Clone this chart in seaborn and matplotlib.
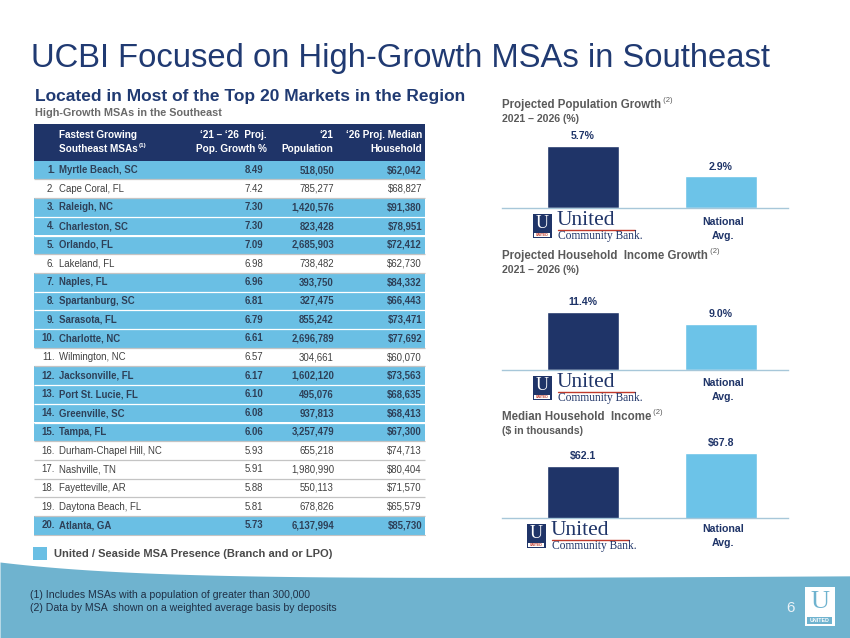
import numpy as np
import matplotlib
matplotlib.use("Agg")
import matplotlib.pyplot as plt
from matplotlib import font_manager
from matplotlib.patches import Rectangle
import seaborn as sns

# ---- data ----
msa_names = ["Myrtle Beach, SC", "Cape Coral, FL", "Raleigh, NC", "Charleston, SC",
             "Orlando, FL", "Lakeland, FL", "Naples, FL", "Spartanburg, SC",
             "Sarasota, FL", "Charlotte, NC", "Wilmington, NC", "Jacksonville, FL",
             "Port St. Lucie, FL", "Greenville, SC", "Tampa, FL",
             "Durham-Chapel Hill, NC", "Nashville, TN", "Fayetteville, AR",
             "Daytona Beach, FL", "Atlanta, GA"]
pop_growth_pct = [8.49, 7.42, 7.30, 7.30, 7.09, 6.98, 6.96, 6.81, 6.79, 6.61,
                  6.57, 6.17, 6.10, 6.08, 6.06, 5.93, 5.91, 5.88, 5.81, 5.73]
population_2021 = [518050, 785277, 1420576, 823428, 2685903, 738482, 393750,
                   327475, 855242, 2696789, 304661, 1602120, 495076, 937813,
                   3257479, 655218, 1980990, 550113, 678826, 6137994]
median_income_2026 = [62042, 68827, 91380, 78951, 72412, 62730, 84332, 66443,
                      73471, 77692, 60070, 73563, 68635, 68413, 67300, 74713,
                      80404, 71570, 65579, 85730]
united_presence = [True, False, True, True, True, False, True, True, True, True,
                   False, True, True, True, True, False, False, False, False, True]

bar_categories = ["United Community Bank", "National Avg."]
proj_pop_growth = [5.7, 2.9]
proj_income_growth = [11.4, 9.0]
median_hh_income = [62.1, 67.8]

NAVY = "#1F3468"
LIGHT = "#6CC3E8"
ROW_BLUE = "#6ABFE4"
TITLE = "#203A72"
GRAY = "#5A5A5A"
WAVE = "#6FB3CF"
RED = "#C0392B"

sns.set_theme(style="white")
names = {f.name for f in font_manager.fontManager.ttflist}
narrow = "Liberation Sans Narrow" if "Liberation Sans Narrow" in names else "Liberation Sans"
plt.rcParams["font.family"] = ["Liberation Sans", "DejaVu Sans"]

W, H = 850, 638
fig = plt.figure(figsize=(W / 100, H / 100), dpi=100)
fig.patch.set_facecolor("white")

bg = fig.add_axes([0, 0, 1, 1])
bg.set_xlim(0, W)
bg.set_ylim(H, 0)
bg.axis("off")

# ---- bottom wave ----
xs = np.linspace(0, W, 200)
wave_top = 562 + 19 * (1 - np.exp(-xs / 150)) - 0.006 * xs
bg.fill_between(xs, wave_top, H, color=WAVE, lw=0)

# ---- titles ----
bg.text(31, 59, "UCBI Focused on High-Growth MSAs in Southeast", fontsize=23.6,
        color=TITLE, va="center")
bg.text(35, 96, "Located in Most of the Top 20 Markets in the Region", fontsize=12.5,
        fontweight="bold", color=TITLE, va="center")
bg.text(35, 113, "High-Growth MSAs in the Southeast", fontsize=7.8,
        fontweight="bold", color="#6A6A6A", va="center")

# ---- table ----
TL, TR = 34, 425
HEAD_TOP, ROW0, ROW_H = 124, 160.7, 18.7
bg.add_patch(Rectangle((TL, HEAD_TOP), TR - TL, ROW0 - HEAD_TOP, color=NAVY, lw=0))
hkw = dict(fontsize=7.2, fontweight="bold", color="white", va="center")
bg.text(59, 135, "Fastest Growing", ha="left", **hkw)
t = bg.text(59, 149, "Southeast MSAs", ha="left", **hkw)
bg.annotate("(1)", xy=(1, 0.85), xycoords=t, xytext=(1, 0), textcoords="offset points",
            fontsize=4.5, fontweight="bold", color="white", va="center")
bg.text(267, 135, "‘21 – ‘26  Proj.", ha="right", **hkw)
bg.text(267, 149, "Pop. Growth %", ha="right", **hkw)
bg.text(333, 135, "‘21", ha="right", **hkw)
bg.text(333, 149, "Population", ha="right", **hkw)
bg.text(422, 135, "‘26 Proj. Median", ha="right", **hkw)
bg.text(422, 149, "Household", ha="right", **hkw)

for i, name in enumerate(msa_names):
    y0 = ROW0 + i * ROW_H
    yc = y0 + ROW_H / 2
    hi = united_presence[i]
    bg.add_patch(Rectangle((TL, y0), TR - TL, ROW_H,
                           color=ROW_BLUE if hi else "white", lw=0))
    kw = dict(fontsize=6.9, va="center",
              fontweight="bold" if hi else "normal",
              color="#2E4058" if hi else "#404040")
    bg.text(55, yc, f"{i + 1}.", ha="right", **kw)
    bg.text(59, yc, name, ha="left", **kw)
    bg.text(263, yc, f"{pop_growth_pct[i]:.2f}", ha="right", **kw)
    bg.text(334, yc, f"{population_2021[i]:,}", ha="right", **kw)
    bg.text(422, yc, f"${median_income_2026[i]:,}", ha="right", **kw)
    if i > 0:
        both = united_presence[i] and united_presence[i - 1]
        bg.plot([TL, TR], [y0, y0], color="white" if both else "#C4C4C4",
                lw=0.9, solid_capstyle="butt")
end_y = ROW0 + len(msa_names) * ROW_H
bg.plot([TL, TR], [end_y, end_y], color="#C4C4C4", lw=0.8)

# legend
bg.add_patch(Rectangle((33, 547), 14, 13, color=ROW_BLUE, lw=0))
bg.text(54, 554, "United / Seaside MSA Presence (Branch and or LPO)", fontsize=8,
        fontweight="bold", color="#4A4A4A", va="center")

# footnotes / page
bg.text(30, 595, "(1) Includes MSAs with a population of greater than 300,000",
        fontsize=7.6, color="#1F2F45", va="center", family=[narrow, "DejaVu Sans"])
bg.text(30, 608, "(2) Data by MSA  shown on a weighted average basis by deposits",
        fontsize=7.6, color="#1F2F45", va="center", family=[narrow, "DejaVu Sans"])
bg.text(791, 608, "6", fontsize=11, color="#EAF2F7", ha="center", va="center")
bg.add_patch(Rectangle((805, 587), 30, 39, facecolor="white", lw=0))
bg.text(820, 602, "U", fontsize=19, color=WAVE, ha="center", va="center",
        family=["Liberation Serif", "DejaVu Serif"])
bg.add_patch(Rectangle((807.5, 617), 25, 7, facecolor=WAVE, lw=0))
bg.text(820, 620.5, "UNITED", fontsize=3.8, fontweight="bold", color="white",
        ha="center", va="center")


def draw_logo(x, y):
    serif = ["Liberation Serif", "DejaVu Serif"]
    bg.add_patch(Rectangle((x, y), 19, 24, facecolor=NAVY, lw=0))
    bg.text(x + 9.5, y + 9, "U", fontsize=13, color="white", ha="center",
            va="center", family=serif)
    bg.add_patch(Rectangle((x + 1.5, y + 18.5), 16, 4, facecolor="white", lw=0))
    bg.text(x + 9.5, y + 20.5, "UNITED", fontsize=2.4, color=RED, ha="center",
            va="center", fontweight="bold")
    bg.text(x + 24, y + 6.5, "United", fontsize=15.5, color=NAVY, ha="left",
            va="center", family=serif)
    bg.plot([x + 25, x + 102], [y + 15.5, y + 15.5], color=RED, lw=1)
    bg.text(x + 25, y + 22, "Community Bank.", fontsize=8.3, color=NAVY, ha="left",
            va="center", family=serif)


def chart_title(y, title, sub):
    t = bg.text(502, y, title, fontsize=8.3, fontweight="bold", color=GRAY,
                va="center")
    bg.annotate(" (2)", xy=(1, 0.9), xycoords=t, fontsize=5.5, color=GRAY,
                va="center", ha="left")
    bg.text(502, y + 14, sub, fontsize=7.6, fontweight="bold", color=GRAY,
            va="center")


def bar_chart(values, baseline, lo, hi, scale, fmt, logo_x, logo_y, nat_y):
    top = baseline - (hi - lo) * scale
    ax = fig.add_axes([502 / W, 1 - baseline / H, (788 - 502) / W,
                       (baseline - top) / H])
    sns.barplot(x=bar_categories, y=values, hue=bar_categories,
                palette=[NAVY, LIGHT], width=0.52, saturation=1,
                legend=False, ax=ax)
    ax.set_xlim(-0.587, 1.486)
    ax.set_ylim(lo, hi)
    ax.patch.set_alpha(0)
    for s in ["left", "top", "right"]:
        ax.spines[s].set_visible(False)
    ax.spines["bottom"].set_color("#A7C7D9")
    ax.spines["bottom"].set_linewidth(1)
    ax.set_xticks([])
    ax.set_yticks([])
    ax.set_xlabel("")
    ax.set_ylabel("")
    for c, v in zip(ax.containers, values):
        ax.bar_label(c, labels=[fmt.format(v)], padding=3.5, fontsize=7.6,
                     fontweight="bold", color=NAVY)
    draw_logo(logo_x, logo_y)
    bg.text(723, nat_y, "National", fontsize=7.6, fontweight="bold", color=NAVY,
            ha="center", va="center")
    bg.text(723, nat_y + 14, "Avg.", fontsize=7.6, fontweight="bold", color=NAVY,
            ha="center", va="center")
    return ax


chart_title(105, "Projected Population Growth", "2021 – 2026 (%)")
bar_chart(proj_pop_growth, 208.3, 0, 7, 10.98, "{:.1f}%", 533, 214, 222)

chart_title(256, "Projected Household  Income Growth", "2021 – 2026 (%)")
bar_chart(proj_income_growth, 370, 0, 14, 5.12, "{:.1f}%", 533, 376, 383)

chart_title(417, "Median Household  Income", "($ in thousands)")
bar_chart(median_hh_income, 518, 40, 75, 2.35, "${:.1f}", 527, 524, 529)

fig.savefig("out.png", dpi=100)
